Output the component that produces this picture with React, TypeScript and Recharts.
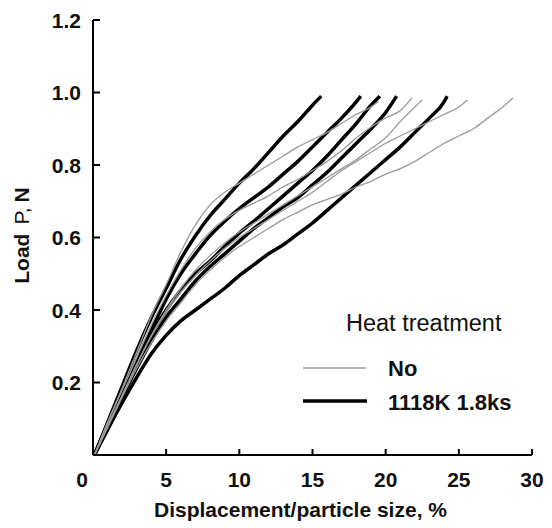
import React from 'react';
import { LineChart, Line, XAxis, YAxis, Legend } from 'recharts';

// Heat treated (1118K 1.8ks) curves: [displacement %, load N]
const treated1 = [[0.1,0],[1,0.09],[2,0.19],[3,0.29],[4,0.38],[5,0.46],[6,0.54],[7,0.605],[8,0.66],[9,0.705],[10,0.75],[11,0.79],[12,0.835],[13,0.88],[14,0.92],[15,0.965],[15.6,0.99]];
const treated2 = [[0.1,0],[1,0.085],[2,0.175],[3,0.26],[4,0.345],[5,0.43],[6,0.5],[7,0.555],[8,0.605],[9,0.645],[10,0.68],[11,0.71],[12,0.74],[13,0.775],[14,0.81],[15,0.85],[16,0.89],[17,0.93],[18,0.975],[18.3,0.99]];
const treated3 = [[0.1,0],[1,0.085],[2,0.17],[3,0.255],[4,0.335],[5,0.4],[6,0.455],[7,0.5],[8,0.535],[9,0.575],[10,0.612],[11,0.645],[12,0.68],[13,0.715],[14,0.75],[15,0.785],[16,0.825],[17,0.87],[18,0.915],[19,0.965],[19.6,0.99]];
const treated4 = [[0.1,0],[1,0.08],[2,0.16],[3,0.24],[4,0.315],[5,0.38],[6,0.43],[7,0.48],[8,0.52],[9,0.555],[10,0.59],[11,0.625],[12,0.655],[13,0.685],[14,0.71],[15,0.745],[16,0.78],[17,0.82],[18,0.86],[19,0.9],[20,0.945],[20.75,0.99]];
const treated5 = [[0.1,0],[1,0.07],[2,0.145],[3,0.215],[4,0.28],[5,0.33],[6,0.37],[7,0.4],[8,0.43],[9,0.46],[10,0.495],[11,0.525],[12,0.555],[13,0.58],[14,0.61],[15,0.64],[16,0.675],[17,0.71],[18,0.745],[19,0.78],[20,0.815],[21,0.85],[22,0.89],[23,0.93],[24,0.975],[24.2,0.99]];

// Untreated curves
const untreated1 = [[0.1,0],[1,0.09],[2,0.185],[3,0.285],[4,0.385],[5,0.47],[6,0.56],[7,0.635],[8,0.69],[9,0.725],[10,0.75],[11,0.775],[12,0.8],[13,0.825],[14,0.85],[15,0.87],[16,0.89],[17,0.915],[18,0.94],[19,0.96],[19.5,0.975]];
const untreated2 = [[0.1,0],[1,0.09],[2,0.18],[3,0.27],[4,0.36],[5,0.44],[6,0.51],[7,0.57],[8,0.615],[9,0.65],[10,0.675],[11,0.695],[12,0.715],[13,0.74],[14,0.76],[15,0.785],[16,0.81],[17,0.84],[18,0.875],[19,0.905],[20,0.93],[21,0.95],[21.8,0.985]];
const untreated3 = [[0.1,0],[1,0.08],[2,0.165],[3,0.25],[4,0.33],[5,0.4],[6,0.46],[7,0.51],[8,0.55],[9,0.585],[10,0.615],[11,0.64],[12,0.665],[13,0.69],[14,0.715],[15,0.74],[16,0.765],[17,0.79],[18,0.815],[19,0.845],[20,0.875],[21,0.92],[22,0.96],[22.5,0.98]];
const untreated4 = [[0.1,0],[1,0.08],[2,0.165],[3,0.25],[4,0.33],[5,0.395],[6,0.45],[7,0.495],[8,0.535],[9,0.57],[10,0.6],[11,0.625],[12,0.65],[13,0.675],[14,0.7],[15,0.725],[16,0.755],[17,0.785],[18,0.81],[19,0.835],[20,0.86],[21,0.88],[22,0.9],[23,0.92],[24,0.94],[25,0.96],[25.6,0.98]];
const untreated5 = [[0.1,0],[1,0.075],[2,0.16],[3,0.24],[4,0.31],[5,0.37],[6,0.42],[7,0.47],[8,0.51],[9,0.545],[10,0.575],[11,0.6],[12,0.625],[13,0.65],[14,0.67],[15,0.69],[16,0.705],[17,0.72],[18,0.74],[19,0.755],[20,0.775],[21,0.79],[22,0.81],[23,0.835],[24,0.86],[25,0.88],[26,0.9],[27,0.93],[28,0.96],[28.7,0.985]];

const xTicks = [0, 5, 10, 15, 20, 25, 30];
const yTicks = [0.2, 0.4, 0.6, 0.8, 1.0, 1.2];
const xTitle = 'Displacement/particle size, %';
const legendTitle = 'Heat treatment';
const legendNo = 'No';
const legendTreated = '1118K 1.8ks';

const treatedSeries = [treated1, treated2, treated3, treated4, treated5];
const untreatedSeries = [untreated1, untreated2, untreated3, untreated4, untreated5];

const FONT = '"Liberation Sans", Arial, Helvetica, sans-serif';

const toPoints = (arr: number[][]) => arr.map(([x, y]) => ({ x, y }));

const XTick = (props: any) => {
  const { x, y, payload } = props;
  const v = payload.value;
  return (
    <g>
      <line x1={x} x2={x} y1={y} y2={y - 6} stroke="#000" strokeWidth={2} />
      <text
        x={x + (v === 0 ? -11 : 0)}
        y={y + 24}
        dy="0.36em"
        textAnchor="middle"
        fontFamily={FONT}
        fontWeight="bold"
        fontSize={21}
        fill="#111"
      >
        {v}
      </text>
    </g>
  );
};

const YTick = (props: any) => {
  const { x, y, payload } = props;
  const v = payload.value;
  return (
    <g>
      <line x1={x} x2={x + 7} y1={y} y2={y} stroke="#000" strokeWidth={2} />
      <text
        x={x - 12}
        y={y}
        dy="0.36em"
        textAnchor="end"
        fontFamily={FONT}
        fontWeight="bold"
        fontSize={21}
        fill="#111"
      >
        {v.toFixed(1)}
      </text>
    </g>
  );
};

const EmptyTick = () => <g />;

const YTitle = (props: any) => {
  const vb = props.viewBox || { x: 0, y: 0, width: 85, height: 435 };
  const cx = 13;
  const cy = vb.y + vb.height / 2 - 2;
  return (
    <text
      x={cx}
      y={cy}
      transform={`rotate(-90 ${cx} ${cy})`}
      textAnchor="middle"
      dy="0.36em"
      fontFamily={FONT}
      fontSize={21}
      fill="#111"
    >
      <tspan fontWeight="bold">Load</tspan>
      <tspan dx={9}>P,</tspan>
      <tspan dx={5} fontWeight="bold">N</tspan>
    </text>
  );
};

const LegendBox = () => (
  <svg width={240} height={110} style={{ display: 'block', overflow: 'visible' }}>
    <text x={43} y={15} dy="0.36em" fontFamily={FONT} fontSize={23.5} fill="#111">
      {legendTitle}
    </text>
    <line x1={0} x2={63} y1={60} y2={60} stroke="#9a9a9a" strokeWidth={1.5} />
    <text x={85} y={60} dy="0.36em" fontFamily={FONT} fontWeight="bold" fontSize={22} fill="#111">
      {legendNo}
    </text>
    <line x1={0} x2={64} y1={93} y2={93} stroke="#000" strokeWidth={3.5} />
    <text x={85} y={94} dy="0.36em" fontFamily={FONT} fontWeight="bold" fontSize={22} fill="#111">
      {legendTreated}
    </text>
  </svg>
);

export default function App() {
  return (
    <div style={{ width: 544, height: 520, background: '#fff' }}>
      <LineChart width={544} height={520} margin={{ top: 12, right: 20, left: 0, bottom: 0 }}>
        <XAxis
          xAxisId="x"
          dataKey="x"
          type="number"
          domain={[0, 30]}
          ticks={xTicks}
          interval={0}
          height={73}
          tickSize={0}
          tickMargin={0}
          tick={<XTick />}
          tickLine={false}
          axisLine={{ stroke: '#000', strokeWidth: 2 }}
          allowDataOverflow
          label={{
            value: xTitle,
            position: 'insideBottom',
            offset: 11,
            dx: -12,
            style: { fontFamily: FONT, fontWeight: 'bold', fontSize: 21, fill: '#111' },
          }}
        />
        <XAxis
          xAxisId="top"
          orientation="top"
          type="number"
          domain={[0, 30]}
          ticks={[5, 10, 15, 20, 25]}
          interval={0}
          height={0}
          mirror
          tickSize={5}
          tick={<EmptyTick />}
          tickLine={{ stroke: '#000', strokeWidth: 2 }}
          axisLine={{ stroke: '#000', strokeWidth: 2 }}
          allowDataOverflow
        />
        <YAxis
          yAxisId="y"
          type="number"
          domain={[0, 1.2]}
          ticks={yTicks}
          interval={0}
          width={85}
          tickSize={0}
          tickMargin={0}
          tick={<YTick />}
          tickLine={false}
          axisLine={{ stroke: '#000', strokeWidth: 2 }}
          allowDataOverflow
          label={{ content: <YTitle /> }}
        />
        <YAxis
          yAxisId="right"
          orientation="right"
          type="number"
          domain={[0, 1.2]}
          ticks={[0.2, 0.4, 0.6, 0.8, 1.0]}
          interval={0}
          width={0}
          mirror
          tickSize={5}
          tick={<EmptyTick />}
          tickLine={{ stroke: '#000', strokeWidth: 2 }}
          axisLine={{ stroke: '#000', strokeWidth: 2 }}
          allowDataOverflow
        />
        {treatedSeries.map((s, i) => (
          <Line
            key={'t' + i}
            xAxisId="x"
            yAxisId="y"
            data={toPoints(s)}
            dataKey="y"
            type="monotone"
            stroke="#000"
            strokeWidth={3.5}
            dot={false}
            isAnimationActive={false}
            name={legendTreated}
          />
        ))}
        {untreatedSeries.map((s, i) => (
          <Line
            key={'u' + i}
            xAxisId="x"
            yAxisId="y"
            data={toPoints(s)}
            dataKey="y"
            type="monotone"
            stroke="#9a9a9a"
            strokeWidth={1.3}
            dot={false}
            isAnimationActive={false}
            name={legendNo}
          />
        ))}
        <Legend
          layout="vertical"
          align="center"
          verticalAlign="middle"
          wrapperStyle={{ left: 295, top: 300, width: 240, height: 110 }}
          content={<LegendBox />}
        />
      </LineChart>
    </div>
  );
}
